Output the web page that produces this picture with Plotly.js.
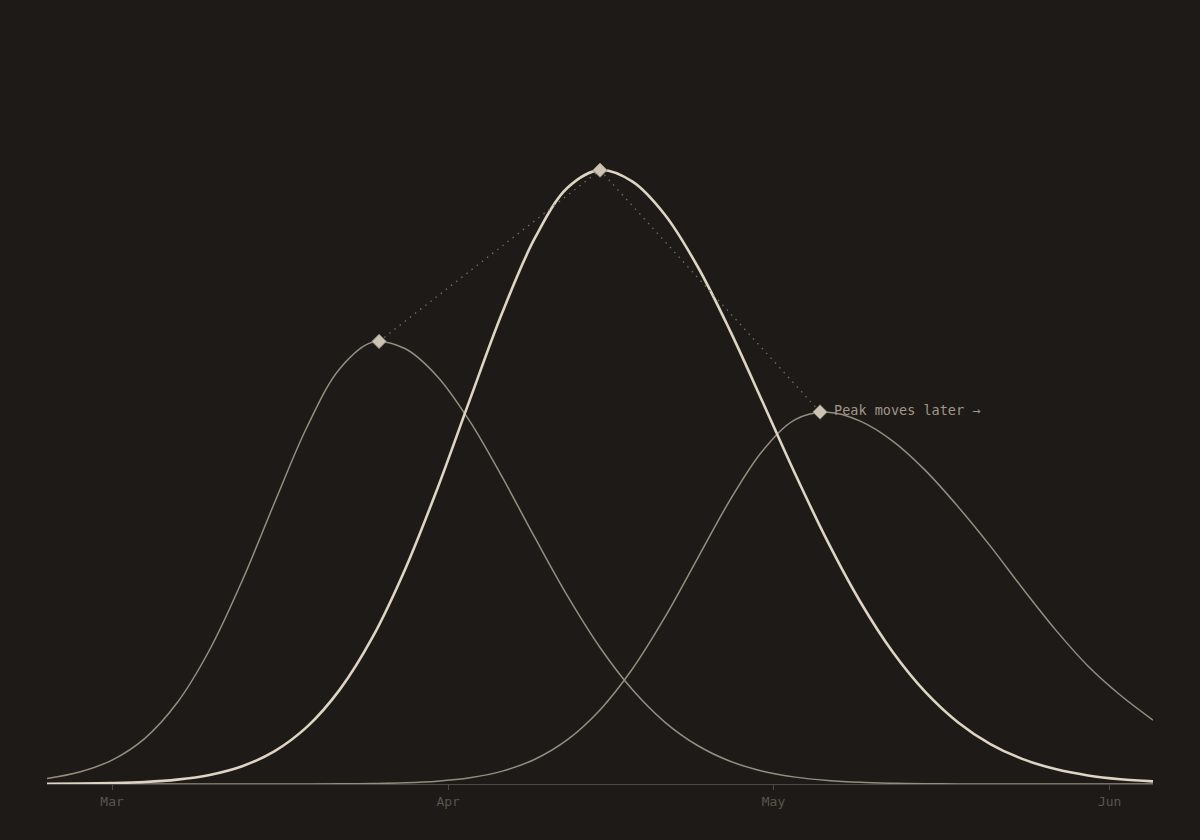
<!DOCTYPE html>
<html>
<head>
<meta charset="utf-8">
<script src="https://cdn.plot.ly/plotly-3.0.1.min.js"></script>
<style>
  html, body { margin: 0; padding: 0; background: #1e1a17; }
  #chart { width: 1200px; height: 840px; }
</style>
</head>
<body>
<div id="chart"></div>
<script>
// sample dates, every 3 days
var dates = [
    '2024-02-24', '2024-02-27', '2024-03-01', '2024-03-04', '2024-03-07', '2024-03-10',
    '2024-03-13', '2024-03-16', '2024-03-19', '2024-03-22', '2024-03-25', '2024-03-28',
    '2024-03-31', '2024-04-03', '2024-04-06', '2024-04-09', '2024-04-12', '2024-04-15',
    '2024-04-18', '2024-04-21', '2024-04-24', '2024-04-27', '2024-04-30', '2024-05-03',
    '2024-05-06', '2024-05-09', '2024-05-12', '2024-05-15', '2024-05-18', '2024-05-21',
    '2024-05-24', '2024-05-27', '2024-05-30', '2024-06-02', '2024-06-05'
];

var early = [
    0.9, 1.95, 3.9, 7.4, 13.23, 21.87, 33.11, 45.89, 58.24, 67.66, 71.97, 70.94,
    66.4, 59.06, 49.94, 40.12, 30.64, 22.24, 15.34, 10.05, 6.27, 3.71, 2.09, 1.12,
    0.57, 0.27, 0.13, 0.05, 0.02, 0.01, 0, 0, 0, 0, 0
];

var middle = [
    0.02, 0.06, 0.14, 0.32, 0.71, 1.48, 2.9, 5.36, 9.34, 15.37, 23.83, 34.87,
    48.11, 62.61, 76.84, 88.95, 97.12, 100, 98.12, 92.69, 84.3, 73.82, 62.23, 50.51,
    39.47, 29.69, 21.5, 15.0, 10.07, 6.51, 4.05, 2.43, 1.4, 0.78, 0.42
];

var late = [
    0, 0, 0, 0, 0, 0, 0, 0, 0.01, 0.03, 0.08, 0.19,
    0.46, 1.02, 2.1, 4.04, 7.23, 12.07, 18.77, 27.21, 36.76, 46.27, 54.29, 59.36,
    60.55, 59.11, 55.86, 51.09, 45.22, 38.75, 31.8, 25.15, 19.23, 14.46, 10.41
];

// peak of each curve
var peakDates = ['2024-03-25 15:00', '2024-04-15 00:00', '2024-05-05 07:00'];
var peakValues = [72.1, 100.0, 60.6];

var tickDates = ['2024-03-01', '2024-04-01', '2024-05-01', '2024-06-01'];
var tickLabels = ['Mar', 'Apr', 'May', 'Jun'];

var bg = '#1e1a17';
var mono = '"DejaVu Sans Mono", monospace';

var traces = [
    {
        x: dates, y: early, mode: 'lines', type: 'scatter',
        line: { color: '#958d7f', width: 1.5, shape: 'spline', smoothing: 1 },
        hoverinfo: 'skip'
    },
    {
        x: dates, y: late, mode: 'lines', type: 'scatter',
        line: { color: '#958d7f', width: 1.5, shape: 'spline', smoothing: 1 },
        hoverinfo: 'skip'
    },
    {
        x: dates, y: middle, mode: 'lines', type: 'scatter',
        line: { color: '#ddd4c4', width: 2.6, shape: 'spline', smoothing: 1 },
        hoverinfo: 'skip'
    },
    {
        x: peakDates, y: peakValues, mode: 'lines+markers', type: 'scatter',
        line: { color: '#746d62', width: 1.3, dash: '1.5px,5px' },
        marker: { symbol: 'diamond', size: 11, color: '#cdc3b2', line: { color: '#948b7d', width: 1 } },
        hoverinfo: 'skip'
    }
];

var layout = {
    width: 1200,
    height: 840,
    paper_bgcolor: bg,
    plot_bgcolor: bg,
    showlegend: false,
    margin: { l: 47, r: 47, t: 40, b: 56 },
    xaxis: {
        type: 'date',
        range: ['2024-02-24', '2024-06-05'],
        showgrid: false,
        zeroline: false,
        showline: true,
        linecolor: '#4f4941',
        linewidth: 1,
        ticks: 'outside',
        ticklen: 5,
        tickcolor: '#4f4941',
        tickmode: 'array',
        tickvals: tickDates,
        ticktext: tickLabels,
        tickfont: { family: mono, size: 13, color: '#5a554e' }
    },
    yaxis: {
        range: [0, 121.2],
        showgrid: false,
        zeroline: false,
        showline: false,
        showticklabels: false,
        ticks: ''
    },
    annotations: [
        {
            x: peakDates[2], y: peakValues[2],
            xref: 'x', yref: 'y',
            text: 'Peak moves later \u2192',
            showarrow: false,
            xanchor: 'left',
            yanchor: 'middle',
            xshift: 12,
            yshift: 2,
            font: { family: mono, size: 13.5, color: '#a0978a' }
        }
    ]
};

Plotly.newPlot('chart', traces, layout, { displayModeBar: false, staticPlot: true });
</script>
</body>
</html>
